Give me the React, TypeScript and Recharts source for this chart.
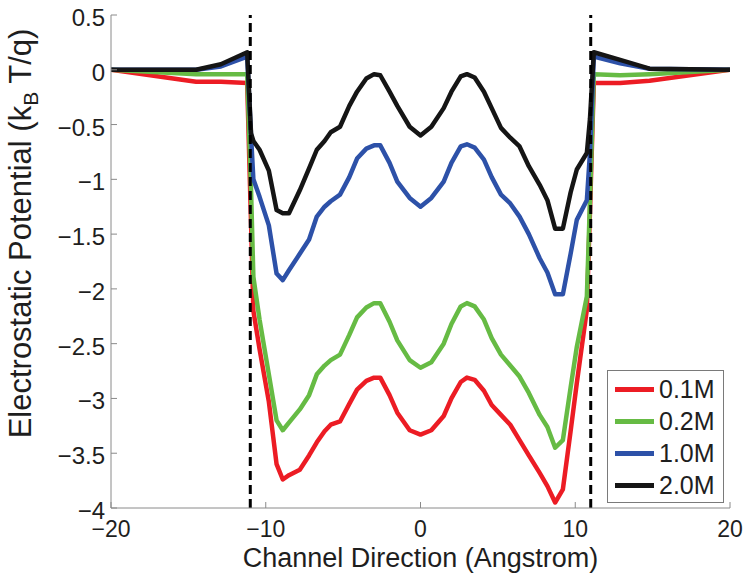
import React from 'react';
import { LineChart, Line, XAxis, YAxis, ReferenceLine, Legend, Label } from 'recharts';

// Channel direction (Angstrom)
const X = [
  -20, -14.5, -12.9, -11.2, -10.95, -10.8, -10.4, -9.8, -9.3, -8.9, -8.5, -7.8, -7.2, -6.7, -6.2, -5.8, -5.2,
  -4.6, -4.1, -3.5, -3.0, -2.6, -2.0, -1.5, -0.7, 0, 0.7, 1.5, 2.0, 2.6, 3.0, 3.5, 4.1, 4.6, 5.2, 5.8, 6.4,
  7.0, 7.7, 8.2, 8.7, 9.2, 9.7, 10.1, 10.75, 10.95, 11.2, 12.9, 14.8, 20,
];

const C01 = [
  0, -0.11, -0.11, -0.12, -1.4, -2.2, -2.55, -3.03, -3.6, -3.74, -3.7, -3.65, -3.52, -3.4, -3.3, -3.24, -3.21,
  -3.05, -2.92, -2.84, -2.81, -2.81, -2.97, -3.13, -3.29, -3.33, -3.29, -3.16, -3.0, -2.85, -2.81, -2.83, -2.93,
  -3.06, -3.15, -3.24, -3.38, -3.52, -3.68, -3.8, -3.95, -3.83, -3.3, -2.86, -2.19, -1.3, -0.12, -0.12, -0.1, 0,
];

const C02 = [
  0, -0.04, -0.04, -0.04, -1.1, -1.89, -2.28, -2.78, -3.2, -3.29, -3.22, -3.1, -2.97, -2.78, -2.7, -2.65, -2.6,
  -2.42, -2.26, -2.17, -2.13, -2.13, -2.3, -2.47, -2.65, -2.72, -2.67, -2.5, -2.32, -2.16, -2.13, -2.16, -2.28,
  -2.45, -2.6, -2.7, -2.8, -2.95, -3.15, -3.26, -3.45, -3.38, -2.9, -2.53, -2.07, -1.2, -0.04, -0.05, -0.04, 0,
];

const C10 = [
  0, 0, 0.03, 0.12, -0.6, -1.0, -1.16, -1.42, -1.86, -1.92, -1.83, -1.68, -1.55, -1.34, -1.25, -1.2, -1.14,
  -0.98, -0.81, -0.72, -0.69, -0.69, -0.85, -1.02, -1.17, -1.25, -1.17, -1.02, -0.85, -0.7, -0.68, -0.71, -0.82,
  -0.98, -1.14, -1.22, -1.34, -1.5, -1.72, -1.85, -2.05, -2.05, -1.68, -1.37, -1.19, -0.76, 0.12, 0.06, 0.01, 0,
];

const C20 = [
  0, 0, 0.05, 0.16, -0.58, -0.65, -0.73, -0.92, -1.28, -1.31, -1.31, -1.1, -0.9, -0.73, -0.65, -0.57, -0.52,
  -0.33, -0.2, -0.08, -0.04, -0.05, -0.2, -0.33, -0.52, -0.6, -0.52, -0.35, -0.2, -0.06, -0.04, -0.07, -0.2,
  -0.35, -0.53, -0.62, -0.7, -0.88, -1.05, -1.19, -1.45, -1.45, -1.12, -0.91, -0.76, -0.45, 0.16, 0.09, 0.01, 0,
];

const SERIES_KEYS = ['c01', 'c02', 'c10', 'c20'];
const SERIES_NAMES = ['0.1M', '0.2M', '1.0M', '2.0M'];
const SERIES_COLORS = ['#ec1c24', '#66bb44', '#2d51a8', '#151515'];
const SERIES_VALUES = [C01, C02, C10, C20];

const X_TICKS = [-20, -10, 0, 10, 20];
const Y_TICKS = [0.5, 0, -0.5, -1, -1.5, -2, -2.5, -3, -3.5, -4];
const CHANNEL_EDGES = [-11, 11];

const data = X.map((x, i) => {
  const row: Record<string, number> = { x };
  SERIES_KEYS.forEach((k, s) => {
    row[k] = SERIES_VALUES[s][i];
  });
  return row;
});

const AXIS = '#8a8a8a';
const TEXT = '#1e1e1e';
const FONT = '"Liberation Sans", Arial, Helvetica, sans-serif';

const fmt = (v: number) => (v < 0 ? '\u2212' + String(Math.abs(v)) : String(v));

const BottomTick = (props: any) => {
  const { x, y, payload } = props;
  return (
    <g>
      <line x1={x} y1={y} x2={x} y2={y - 6} stroke={AXIS} strokeWidth={1} />
      <text x={x} y={y + 29} textAnchor="middle" fontSize={23} fontFamily={FONT} fill={TEXT}>
        {fmt(payload.value)}
      </text>
    </g>
  );
};

const TopTick = (props: any) => {
  const { x, y } = props;
  return <line x1={x} y1={y} x2={x} y2={y + 6} stroke={AXIS} strokeWidth={1} />;
};

const LeftTick = (props: any) => {
  const { x, y, payload } = props;
  return (
    <g>
      <line x1={x} y1={y} x2={x + 6} y2={y} stroke={AXIS} strokeWidth={1} />
      <text x={x - 6} y={y + 11} textAnchor="end" fontSize={24} fontFamily={FONT} fill={TEXT}>
        {fmt(payload.value)}
      </text>
    </g>
  );
};

const RightTick = (props: any) => {
  const { x, y } = props;
  return <line x1={x} y1={y} x2={x - 6} y2={y} stroke={AXIS} strokeWidth={1} />;
};

const XTitle = (props: any) => {
  const vb = props.viewBox || {};
  return (
    <text
      x={vb.x + vb.width / 2}
      y={vb.y + 59}
      textAnchor="middle"
      fontSize={27}
      fontFamily={FONT}
      fill={TEXT}
    >
      Channel Direction (Angstrom)
    </text>
  );
};

const YTitle = (props: any) => {
  const vb = props.viewBox || {};
  const cx = 31;
  const cy = vb.y + vb.height / 2 - 28;
  return (
    <text
      x={cx}
      y={cy}
      transform={`rotate(-90 ${cx} ${cy})`}
      textAnchor="middle"
      fontSize={31}
      fontFamily={FONT}
      fill={TEXT}
    >
      Electrostatic Potential (k
      <tspan fontSize={21} dy={7}>B</tspan>
      <tspan dy={-7}> T/q)</tspan>
    </text>
  );
};

const LegendBox = () => (
  <div
    style={{
      width: 117,
      height: 133,
      boxSizing: 'border-box',
      border: '1px solid #7a7a7a',
      background: '#fff',
      paddingTop: 2,
      fontFamily: FONT,
    }}
  >
    {SERIES_NAMES.map((name, i) => (
      <div key={name} style={{ display: 'flex', alignItems: 'center', height: 32 }}>
        <div style={{ width: 39, height: 5, background: SERIES_COLORS[i], marginLeft: 7, marginRight: 5 }} />
        <span style={{ fontSize: 25, color: TEXT, lineHeight: '32px' }}>{name}</span>
      </div>
    ))}
  </div>
);

export default function App() {
  return (
    <div style={{ position: 'absolute', left: 0, top: 0, width: 750, height: 578, background: '#fff' }}>
      <LineChart width={750} height={578} data={data} margin={{ top: 15, right: 20, bottom: 0, left: 0 }}>
        <XAxis
          dataKey="x"
          type="number"
          domain={[-20, 20]}
          ticks={X_TICKS}
          interval={0}
          allowDataOverflow
          height={70}
          tickSize={0}
          tickMargin={0}
          tickLine={false}
          axisLine={{ stroke: AXIS, strokeWidth: 1 }}
          tick={<BottomTick />}
        >
          <Label content={<XTitle />} />
        </XAxis>
        <XAxis
          xAxisId="top"
          orientation="top"
          dataKey="x"
          type="number"
          domain={[-20, 20]}
          ticks={X_TICKS}
          interval={0}
          allowDataOverflow
          height={0}
          tickSize={0}
          tickMargin={0}
          tickLine={false}
          axisLine={{ stroke: AXIS, strokeWidth: 1 }}
          tick={<TopTick />}
        />
        <YAxis
          type="number"
          domain={[-4, 0.5]}
          ticks={Y_TICKS}
          interval={0}
          allowDataOverflow
          width={111}
          tickSize={0}
          tickMargin={0}
          tickLine={false}
          axisLine={{ stroke: AXIS, strokeWidth: 1 }}
          tick={<LeftTick />}
        >
          <Label content={<YTitle />} />
        </YAxis>
        <YAxis
          yAxisId="right"
          orientation="right"
          type="number"
          domain={[-4, 0.5]}
          ticks={Y_TICKS}
          interval={0}
          allowDataOverflow
          width={0}
          tickSize={0}
          tickMargin={0}
          tickLine={false}
          axisLine={{ stroke: AXIS, strokeWidth: 1 }}
          tick={<RightTick />}
        />
        {SERIES_KEYS.map((k, i) => (
          <Line
            key={k}
            dataKey={k}
            name={SERIES_NAMES[i]}
            type="linear"
            stroke={SERIES_COLORS[i]}
            strokeWidth={4.5}
            strokeLinejoin="round"
            dot={false}
            activeDot={false}
            isAnimationActive={false}
          />
        ))}
        {CHANNEL_EDGES.map((x) => (
          <ReferenceLine key={x} x={x} stroke="#000" strokeWidth={3} strokeDasharray="9 5" />
        ))}
        <Legend
          layout="vertical"
          align="center"
          verticalAlign="middle"
          content={<LegendBox />}
          wrapperStyle={{ left: 607, top: 370, width: 117, height: 133 }}
        />
      </LineChart>
    </div>
  );
}
